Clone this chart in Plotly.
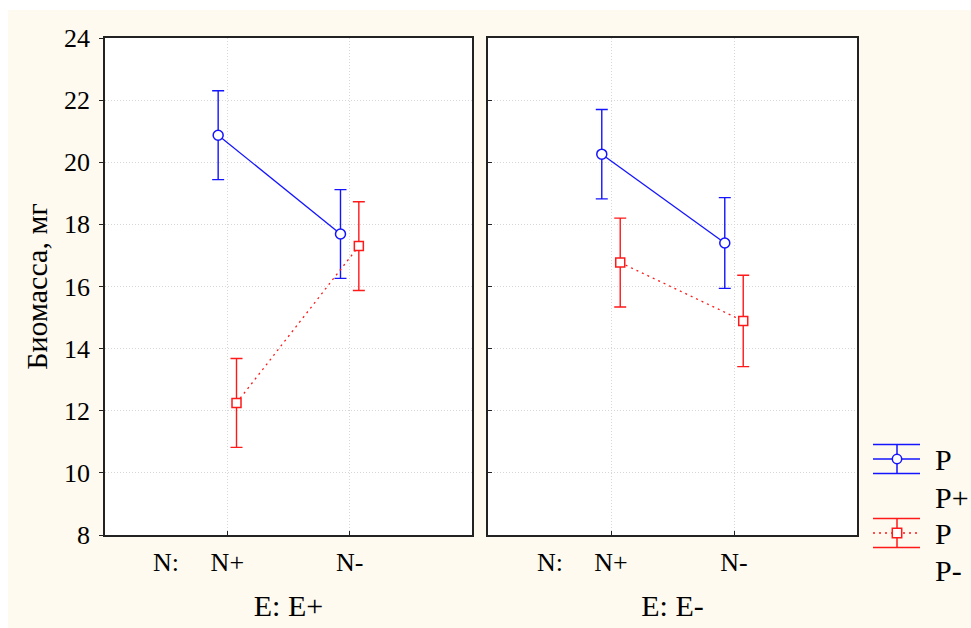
import plotly.graph_objects as go

# ---- data ----
categories = ["N+", "N-"]
panels = ["E: E+", "E: E-"]
series_names = ["P+", "P-"]
# means per panel (E+ , E-), per category (N+, N-)
p_plus_means_Eplus = [20.87, 17.69]
p_plus_err_Eplus = [1.43, 1.43]
p_minus_means_Eplus = [12.25, 17.30]
p_minus_err_Eplus = [1.43, 1.43]
p_plus_means_Eminus = [20.26, 17.40]
p_plus_err_Eminus = [1.44, 1.46]
p_minus_means_Eminus = [16.77, 14.89]
p_minus_err_Eminus = [1.43, 1.47]
y_ticks = [8, 10, 12, 14, 16, 18, 20, 22, 24]

W, H = 971, 628
ML, MR, MT, MB = 105, 114, 38, 93
PW = W - ML - MR
PH = H - MT - MB

def px(x):
    return (x - ML) / PW

def py(y):
    return (H - MB - y) / PH

BLUE = "rgb(20,20,255)"
RED = "rgb(255,25,25)"
GRID = "rgb(215,215,215)"
CREAM = "#fefaf0"
FONT = "Liberation Serif"

xpos = [1, 2]
off = 0.075

fig = go.Figure()

panel_data = [
    ("x", "y", p_plus_means_Eplus, p_plus_err_Eplus, p_minus_means_Eplus, p_minus_err_Eplus),
    ("x2", "y2", p_plus_means_Eminus, p_plus_err_Eminus, p_minus_means_Eminus, p_minus_err_Eminus),
]
for xa, ya, pm, pe, mm, me in panel_data:
    fig.add_trace(go.Scatter(
        x=[v - off for v in xpos], y=pm, xaxis=xa, yaxis=ya,
        mode="lines+markers",
        line=dict(color=BLUE, width=1.3),
        marker=dict(symbol="circle", size=10, color="white", line=dict(color=BLUE, width=1.5)),
        error_y=dict(type="data", array=pe, visible=True, color=BLUE, thickness=1.4, width=6),
        showlegend=False,
    ))
    fig.add_trace(go.Scatter(
        x=[v + off for v in xpos], y=mm, xaxis=xa, yaxis=ya,
        mode="lines+markers",
        line=dict(color=RED, width=1.3, dash="2px,4px"),
        marker=dict(symbol="square", size=9, color="white", line=dict(color=RED, width=1.5)),
        error_y=dict(type="data", array=me, visible=True, color=RED, thickness=1.4, width=6),
        showlegend=False,
    ))

d1 = (472 - ML) / PW
d2 = (488 - ML) / PW

xcommon = dict(
    range=[0, 3], tickvals=xpos, ticktext=categories,
    showgrid=True, gridcolor=GRID, griddash="1px,2px", gridwidth=1,
    showline=True, linecolor="#222", linewidth=1.5, mirror=True,
    ticks="inside", ticklen=4, tickcolor="#222",
    tickfont=dict(family=FONT, size=26, color="black"),
    ticklabelstandoff=3, zeroline=False,
)
ycommon = dict(
    range=[8, 24], tickvals=y_ticks,
    showgrid=True, gridcolor=GRID, griddash="1px,2px", gridwidth=1,
    showline=True, linecolor="#222", linewidth=1.5, mirror=True,
    tickcolor="#222", ticklen=4, zeroline=False,
    tickfont=dict(family=FONT, size=26, color="black"),
)

fig.update_layout(
    width=W, height=H,
    margin=dict(l=ML, r=MR, t=MT, b=MB),
    paper_bgcolor="white", plot_bgcolor="white",
    showlegend=False,
    xaxis=dict(domain=[0, d1], anchor="y", **xcommon,
               title=dict(text=panels[0], font=dict(family=FONT, size=30, color="black"), standoff=19)),
    xaxis2=dict(domain=[d2, 1], anchor="y2", **xcommon,
                title=dict(text=panels[1], font=dict(family=FONT, size=30, color="black"), standoff=19)),
    yaxis=dict(anchor="x", ticks="outside", **ycommon,
               title=dict(text="Биомасса, мг", font=dict(family=FONT, size=30, color="black"), standoff=8),
               ticklabelstandoff=4),
    yaxis2=dict(anchor="x2", ticks="inside", showticklabels=False, **ycommon),
    yaxis3=dict(anchor="x", overlaying="y", side="right", range=[8, 24], tickvals=y_ticks,
                ticks="inside", ticklen=4, tickcolor="#222", showticklabels=False,
                showgrid=False, zeroline=False, showline=False),
    yaxis4=dict(anchor="x2", overlaying="y2", side="right", range=[8, 24], tickvals=y_ticks,
                ticks="inside", ticklen=4, tickcolor="#222", showticklabels=False,
                showgrid=False, zeroline=False, showline=False),
)

shapes = []
# cream page background
shapes.append(dict(type="rect", xref="paper", yref="paper", layer="below",
                   x0=px(8), x1=px(W + 5), y0=py(H + 5), y1=py(10),
                   fillcolor=CREAM, line=dict(width=0)))
# white plot areas
for a, b in [(0, d1), (d2, 1)]:
    shapes.append(dict(type="rect", xref="paper", yref="paper", layer="below",
                       x0=a, x1=b, y0=0, y1=1, fillcolor="white", line=dict(width=0)))

# legend glyphs
lx0, lx1, lxc = 873, 920, 897
for color, yc, dash, sym in [(BLUE, 459, "solid", "circle"), (RED, 533, "2px,4px", "square")]:
    for yy in (yc - 14.5, yc + 14.5):
        shapes.append(dict(type="line", xref="paper", yref="paper",
                           x0=px(lx0), x1=px(lx1), y0=py(yy), y1=py(yy),
                           line=dict(color=color, width=1.5)))
    shapes.append(dict(type="line", xref="paper", yref="paper",
                       x0=px(lxc), x1=px(lxc), y0=py(yc - 14.5), y1=py(yc + 14.5),
                       line=dict(color=color, width=1.5)))
    shapes.append(dict(type="line", xref="paper", yref="paper",
                       x0=px(lx0), x1=px(lx1), y0=py(yc), y1=py(yc),
                       line=dict(color=color, width=1.4, dash=dash)))
    r = 4.7
    shapes.append(dict(type="circle" if sym == "circle" else "rect", xref="paper", yref="paper",
                       x0=px(lxc - r), x1=px(lxc + r), y0=py(yc + r), y1=py(yc - r),
                       fillcolor="white", line=dict(color=color, width=1.5)))
fig.update_layout(shapes=shapes)

annotations = []
for xa in ["x", "x2"]:
    annotations.append(dict(text="N:", x=0.5, xref=xa, y=py(562), yref="paper",
                            showarrow=False, xanchor="center", yanchor="middle",
                            font=dict(family=FONT, size=26, color="black")))
for text, yc in [("P", 459), ("P" + series_names[0][1:], 497), ("P", 533), ("P" + series_names[1][1:], 570)]:
    annotations.append(dict(text=text, x=px(933), xref="paper", y=py(yc), yref="paper",
                            showarrow=False, xanchor="left", yanchor="middle",
                            font=dict(family=FONT, size=30, color="black")))
fig.update_layout(annotations=annotations)

fig.write_html("out.html")
